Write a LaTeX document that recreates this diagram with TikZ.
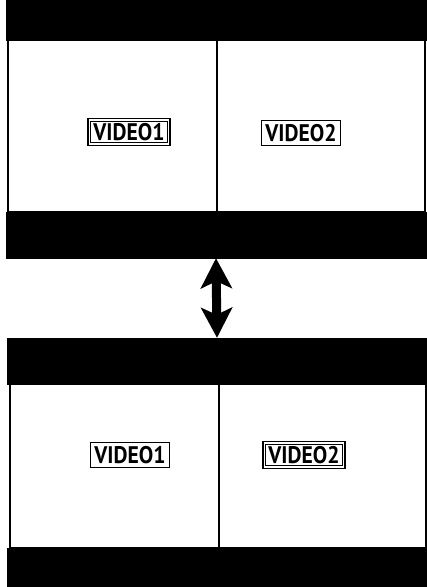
\documentclass[tikz,border=0pt]{standalone}
\usepackage{fontspec}
\setmainfont{PT Sans}
\newfontfamily\chanfont[FakeStretch=0.9]{PT Sans}
\usepackage{tikz}
\usetikzlibrary{arrows.meta, positioning}

\begin{document}
\begin{tikzpicture}[x=1pt,y=-1pt]
\tikzstyle{bar} = [rectangle, fill=black, draw=black, minimum width=420pt, inner sep=0pt]
\tikzstyle{screen} = [draw=black, line width=1.6pt, fill=white]
\tikzstyle{chan} = [rectangle, draw=black, line width=1.3pt, inner xsep=4pt, inner ysep=3.5pt, fill=white, font=\chanfont\bfseries\fontsize{24}{24}\selectfont]
\tikzstyle{chansel} = [chan, double, double distance=1.6pt, line width=1.2pt]
\tikzstyle{arrow} = [line width=9pt, >={Stealth[length=30pt,width=31pt,inset=7pt]}, <->]

\useasboundingbox (0,0) rectangle (427,587);

% upper screen
\draw [screen] (8,40) rectangle (425,212);
\draw [line width=1.6pt] (217,40) -- (217,212);
\node (topA) [bar, minimum height=40pt] at (216,20) {};
\node (botA) [bar, minimum height=46pt] at (216,235) {};
\node (v1A) [chansel] at (129,132) {VIDEO1};
\node (v2A) [chan] at (301,133) {VIDEO2};

% lower screen
\draw [screen] (10,384) rectangle (426,548);
\draw [line width=1.6pt] (219,384) -- (219,548);
\node (topB) [bar, minimum height=46pt] at (217,361) {};
\node (botB) [bar, minimum height=39pt] at (217,567.5) {};
\node (v1B) [chan] at (130,455) {VIDEO1};
\node (v2B) [chansel] at (304,455) {VIDEO2};

\draw [arrow] (botA.south) -- (topB.north);
\end{tikzpicture}
\end{document}
